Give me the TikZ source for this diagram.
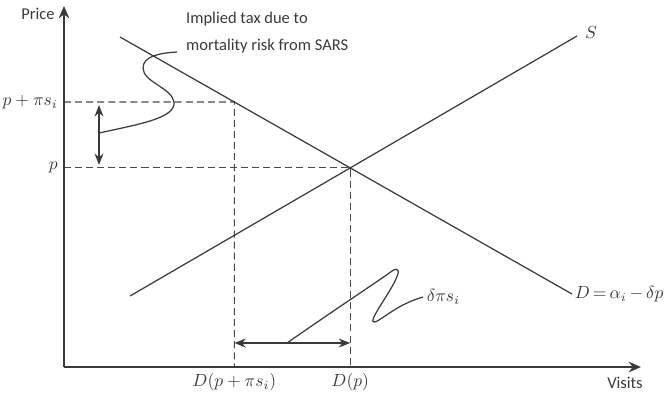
\documentclass[tikz,border=0pt]{standalone}
\usepackage{fontspec}
\setmainfont{Carlito}
\usetikzlibrary{arrows.meta, calc}
\definecolor{tinta}{HTML}{3A3A3A}
\definecolor{guia}{HTML}{4A4A4A}
\tikzset{
  eje/.style={line width=1.4pt, color=tinta, -{Stealth[length=7pt,width=6pt]}},
  curva/.style={line width=0.7pt, color=tinta},
  guion/.style={line width=0.6pt, color=guia, dash pattern=on 4pt off 2.3pt},
  flecha/.style={line width=1.1pt, color=tinta, {Stealth[length=6.5pt,width=5pt]}-{Stealth[length=6.5pt,width=5pt]}},
  llamada/.style={line width=0.7pt, color=tinta},
  txt/.style={font=\fontsize{9.4}{15.3}\selectfont, text=tinta},
  mtxt/.style={font=\fontsize{10}{12}\selectfont, text=tinta}
}

\begin{document}
\begin{tikzpicture}[x=0.02cm, y=-0.02cm]
  \useasboundingbox (0,0) rectangle (665,397);
  \coordinate (O) at (64,367);
  \coordinate (ytop) at (64,6);
  \coordinate (xfin) at (641,367);
  \coordinate (D1) at (120,37);
  \coordinate (D2) at (572,294);
  \coordinate (S1) at (130,296);
  \coordinate (S2) at (577,36);
  \coordinate (ya) at (64,102);
  \coordinate (yb) at (600,102);
  \coordinate (eq) at (intersection of D1--D2 and S1--S2);
  \coordinate (tx) at (intersection of D1--D2 and ya--yb);
  \coordinate (pl) at (O |- eq);
  \coordinate (va) at (99,105);
  \coordinate (vb) at (99,165);
  \coordinate (vm) at (99,133);
  \coordinate (hm) at (287,343);
  \coordinate (c1) at (177,52);
  \draw [guion] (ya) -- (tx) -- (tx |- O);
  \draw [guion] (pl) -- (eq) -- (eq |- O);
  \draw [curva] (D1) -- (D2);
  \draw [curva] (S1) -- (S2);
  \draw [eje] (O) -- (ytop);
  \draw [eje] (O) -- (xfin);
  \node (precio) [txt] at (38,14) {Price};
  \node (visitas) [txt] at (625,383) {Visits};
  \node (ls) [mtxt, anchor=west, inner sep=1pt] at ($(S2)+(6,-4)$) {$S$};
  \node (ld) [mtxt, right, inner sep=1.5pt] at (D2) {$D\,{=}\,\alpha_i\,{-}\,\delta p$};
  \node (lp) [mtxt, left] at (pl) {$p$};
  \node (lpt) [mtxt, left] at (ya) {$p+\pi s_i$};
  \node (ldp) [mtxt, below] at (eq |- O) {$D(p)$};
  \node (ldpt) [mtxt, below] at (tx |- O) {$D(p+\pi s_i)$};
  \node (nota) [txt, anchor=west, align=left] at (180,33) {Implied tax due to\\mortality risk from SARS};
  \node (dl) [mtxt, anchor=west, inner sep=2pt] at (423,297) {$\delta\pi s_i$};
  \draw [flecha] (va) -- (vb);
  \draw [flecha] (tx |- hm) -- (eq |- hm);
  \draw [llamada] (vm) .. controls (140,124) and (176,118) .. (174,102)
    .. controls (172,88) and (143,82) .. (143,68)
    .. controls (143,56) and (160,53) .. (c1);
  \draw [llamada] (hm) .. controls (340,306) and (380,280) .. (392,271)
    .. controls (400,266) and (400,272) .. (394,283)
    .. controls (385,300) and (368,322) .. (374,322)
    .. controls (380,322) and (395,305) .. (dl.west);
\end{tikzpicture}
\end{document}
